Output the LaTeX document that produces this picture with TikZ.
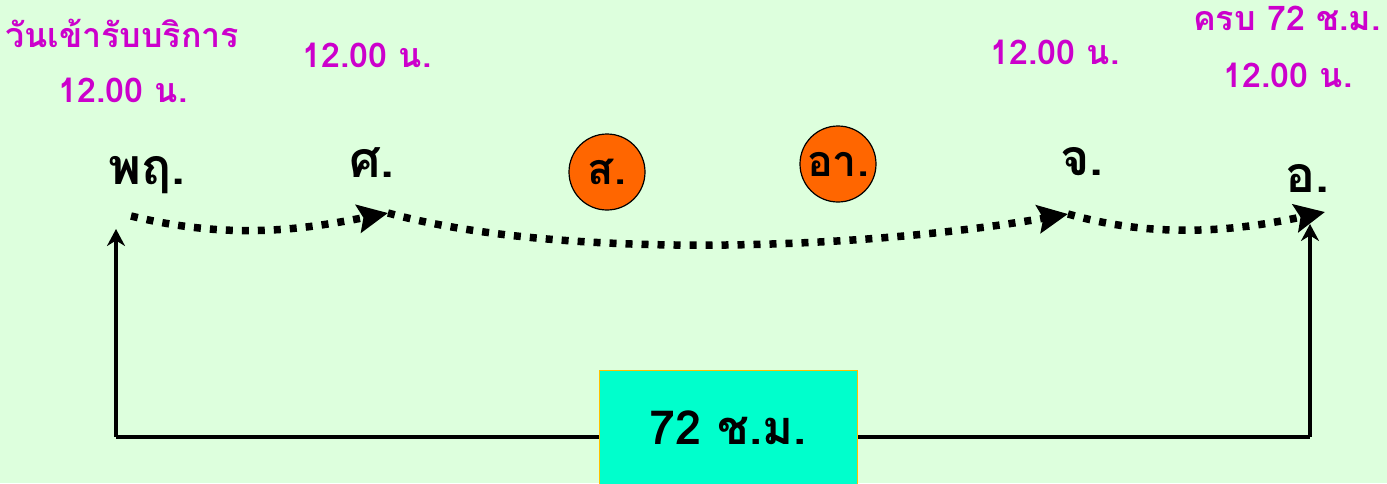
\documentclass[tikz,border=0pt]{standalone}
\usepackage{fontspec}
\newfontfamily\thaifont[Script=Thai]{Loma}
\usetikzlibrary{arrows.meta}
\definecolor{bg}{RGB}{221,255,221}
\definecolor{mag}{RGB}{204,0,204}
\definecolor{orng}{RGB}{255,102,0}
\definecolor{cyanbox}{RGB}{0,255,204}
\definecolor{boxedge}{RGB}{255,192,0}
\tikzset{
  magtext/.style={text=mag, font=\thaifont\bfseries\fontsize{34}{38}\selectfont, inner sep=0pt},
  daytext/.style={text=black, font=\thaifont\bfseries\fontsize{50}{56}\selectfont, inner sep=0pt},
  daycircle/.style={circle, draw=black, line width=1.2pt, fill=orng, minimum size=76pt, inner sep=0pt, font=\thaifont\bfseries\fontsize{43}{48}\selectfont},
  dotline/.style={line width=7.5pt, dash pattern=on 7pt off 9pt},
  dottip/.style={-{Stealth[length=30pt 0 0,width=28pt 0 0,inset=5pt]}},
  solidline/.style={line width=3.2pt},
  uparrow/.style={line width=3.2pt, -{Stealth[length=17pt 0 0,width=18pt 0 0]}}
}
\begin{document}
\begin{tikzpicture}[x=1pt,y=-1pt]
\fill[bg] (0,0) rectangle (1387,483);
\useasboundingbox (0,0) rectangle (1387,483);
% magenta labels
\node[magtext] (l1) at (122,33) {วันเข้ารับบริการ};
\node[magtext] (l2) at (123,90) {12.00 น.};
\node[magtext] (l3) at (367,55) {12.00 น.};
\node[magtext] (l4) at (1055,52) {12.00 น.};
\node[magtext] (l5) at (1287,18) {ครบ 72 ช.ม.};
\node[magtext] (l6) at (1288,75) {12.00 น.};
% day labels
\node[daytext] (thu) at (147,175) {พฤ.};
\node[daytext] (fri) at (372,163) {ศ.};
\node[daycircle] (sat) at (607,172) {ส.};
\node[daycircle] (sun) at (838,164) {อา.};
\node[daytext] (mon) at (1082,162) {จ.};
\node[daytext] (tue) at (1307,178) {อ.};
% dotted path coordinates
\coordinate (p0) at (131,216);
\coordinate (p1) at (388,213);
\coordinate (p2) at (1068,214);
\coordinate (p3) at (1325,212);
\draw[dotline, dottip] (p0) .. controls (230,240) and (300,230) .. (p1);
\draw[dotline, dottip] (p1) .. controls (560,260) and (860,250) .. (p2);
\draw[dotline, dottip] (p2) .. controls (1160,240) and (1240,230) .. (p3);
% box
\node[draw=boxedge, line width=1.2pt, fill=cyanbox, minimum width=258pt, minimum height=120pt, anchor=north west, inner sep=0pt] (box) at (599,370) {};
\node[font=\thaifont\bfseries\fontsize{47}{52}\selectfont, inner sep=0pt] (boxlabel) at (728,428) {72 ช.ม.};
\coordinate (bl) at (116,437);
\coordinate (br) at (1310,437);
\coordinate (tl) at (116,229);
\coordinate (tr) at (1310,224);
\draw[solidline] (box.west |- bl) -- (bl);
\draw[uparrow] (bl) -- (tl);
\draw[solidline] (box.east |- br) -- (br);
\draw[uparrow] (br) -- (tr);
\end{tikzpicture}
\end{document}
